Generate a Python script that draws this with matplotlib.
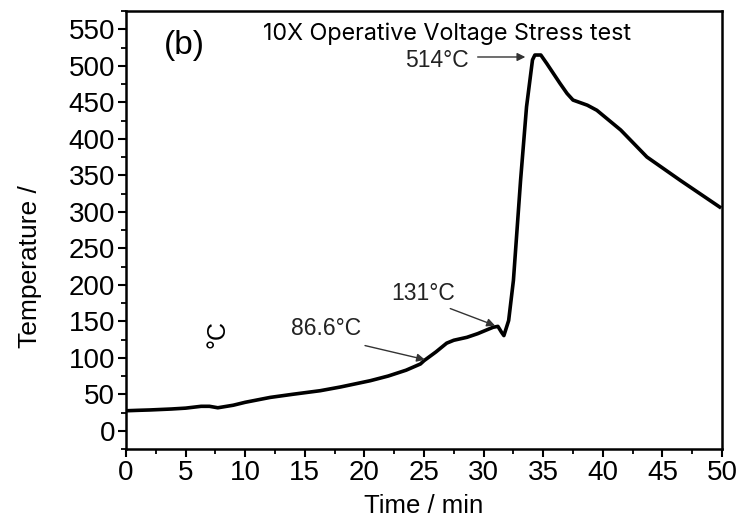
import matplotlib
matplotlib.use("Agg")
import matplotlib.pyplot as plt
from matplotlib.ticker import MultipleLocator

# ---- data ----
time_min = [0, 1, 2, 3.8, 5, 6.3, 7.0, 7.7, 9, 10, 12.1, 14, 16.3, 18, 20.5, 22, 23.5,
            24.7, 25.0, 26.0, 26.9, 27.5, 28.6, 29.5, 30.8, 31.2, 31.5, 31.7, 32.1,
            32.5, 33.1, 33.6, 34.1, 34.3, 34.8, 35.3, 36.4, 37.0, 37.5, 38.7, 39.5, 41.5,
            43.7, 46.5, 49.8]
temp_c = [27.4, 28, 28.5, 29.8, 31, 33.5, 33.5, 31.5, 35, 39, 45.7, 50, 54.9, 60, 68.6, 75, 83,
          91.5, 96, 108, 120, 124, 128, 133, 141.8, 143, 135, 130.4, 151,
          206, 343, 443.7, 508, 514.7, 514.7, 503, 476, 462, 453, 446, 439, 412,
          375, 343, 306.5]

x_ticks = list(range(0, 51, 5))
y_ticks = list(range(0, 551, 50))

annotations = [
    ("86.6\u00b0C", (16.8, 140), (20.05, 116.7), (25.08, 97.4)),
    ("131\u00b0C", (24.9, 188), (27.2, 167.4), (30.96, 144.1)),
    ("514\u00b0C", (26.1, 507), (29.5, 512), (33.5, 512)),
]

plt.rcParams['font.family'] = ['Liberation Sans', 'DejaVu Sans']

fig = plt.figure(figsize=(7.4, 5.29), dpi=100)
ax = fig.add_axes([0.1703, 0.1512, 0.9757 - 0.1703, 0.9792 - 0.1512])

ax.plot(time_min, temp_c, color='black', lw=2.6, solid_joinstyle='round')

ax.set_xlim(0, 50)
ax.set_ylim(-25, 575)
ax.set_xticks(x_ticks)
ax.set_yticks(y_ticks)
ax.xaxis.set_minor_locator(MultipleLocator(2.5))
ax.yaxis.set_minor_locator(MultipleLocator(25))
ax.tick_params(axis='both', which='major', direction='out', length=6, width=1.5,
               labelsize=20, pad=2, colors='black')
ax.tick_params(axis='both', which='minor', direction='out', length=3.5, width=1.3)
ax.tick_params(top=False, right=False)
for s in ax.spines.values():
    s.set_linewidth(1.8)

ax.set_xlabel("Time / min", fontsize=18.5, labelpad=6)
fig.text(30 / 740, 1 - 267 / 529, "Temperature /", rotation=90, fontsize=19,
         ha='center', va='center')
ax.text(7.7, 132, "\u00b0C", rotation=90, fontsize=18, ha='center', va='center')

ax.text(4.9, 528, "(b)", fontsize=24, ha='center', va='center')
fig.text(447 / 740, 1 - 34 / 529, "10X Operative Voltage Stress test",
         fontsize=16.8, ha='center', va='center', family=['Inter', 'DejaVu Sans'])

for label, tpos, start, end in annotations:
    ax.text(tpos[0], tpos[1], label, fontsize=16.5, ha='center', va='center', color='#222222')
    ax.annotate("", xy=end, xytext=start,
                arrowprops=dict(arrowstyle='-|>', color='#333333', lw=1.0,
                                mutation_scale=12, shrinkA=0, shrinkB=0))

fig.savefig("out.png", dpi=100)
